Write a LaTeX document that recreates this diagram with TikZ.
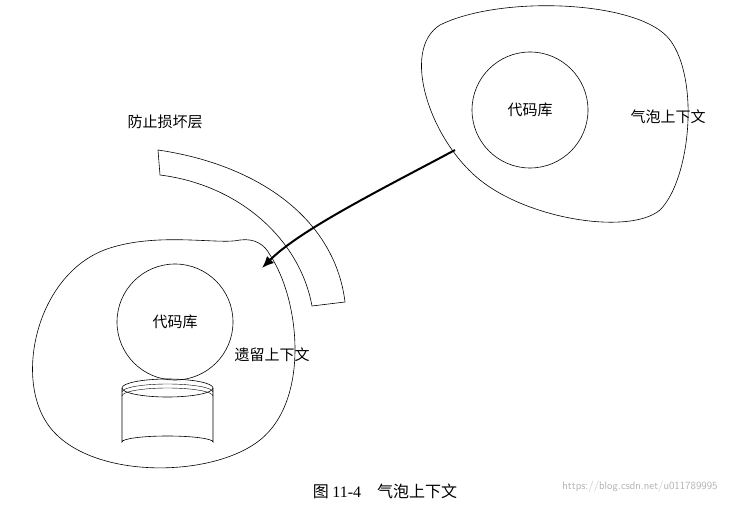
\documentclass[tikz,border=0pt]{standalone}
\usepackage{fontspec}
\usetikzlibrary{arrows.meta}
\setmainfont{Liberation Serif}
\newfontfamily\cjk{Noto Sans CJK SC}
\begin{document}
\begin{tikzpicture}[x=1pt,y=-1pt,
  lbl/.style={font=\cjk\fontsize{15}{17}\selectfont},
  outline/.style={draw,line width=0.6pt}]
\useasboundingbox (0,0) rectangle (754,505);
% top-right blob
\draw[outline] (440,25) .. controls (500,-5) and (640,0) .. (670,40)
  .. controls (700,80) and (690,180) .. (660,210)
  .. controls (630,235) and (530,220) .. (480,180)
  .. controls (430,140) and (400,50) .. (440,25) -- cycle;
\node[outline,circle,minimum size=116pt,lbl] (c1) at (530,110) {代码库};
\node[lbl] (t1) at (668,117) {气泡上下文};
% bottom-left blob
\draw[outline] (240,240) .. controls (255,238) and (265,245) .. (270,255)
  .. controls (300,300) and (310,400) .. (260,440)
  .. controls (210,480) and (80,480) .. (45,420)
  .. controls (15,370) and (40,270) .. (110,248)
  .. controls (160,232) and (220,245) .. (240,240) -- cycle;
\node[outline,circle,minimum size=116pt,lbl] (c2) at (175,322) {代码库};
\node[lbl] (t2) at (272,355) {遗留上下文};
% cylinder
\draw[outline] (122,388) -- (122,442) arc[start angle=180,end angle=360,x radius=45.5,y radius=6] -- (213,388);
\draw[outline] (167.5,388) ellipse[x radius=45.5,y radius=9];
\draw[line width=0.4pt] (122,392) arc[start angle=180,end angle=360,x radius=45.5,y radius=8];
\draw[line width=0.4pt] (122,396) arc[start angle=180,end angle=360,x radius=45.5,y radius=8];
% anti-corruption band
\draw[outline] (158,150) .. controls (260,165) and (335,220) .. (345,302)
  -- (312,306) .. controls (300,240) and (240,185) .. (160,175) -- cycle;
\node[lbl] (t3) at (165,122) {防止损坏层};
% arrow
\coordinate (a0) at (455,150);
\coordinate (a1) at (262,268);
\draw[line width=2pt,-{Latex[length=12pt,width=10pt]}] (a0) .. controls (380,190) and (300,230) .. (a1);
% caption
\node[font=\cjk\fontsize{16}{18}\selectfont] (cap) at (385,491) {图 \fontspec{Liberation Serif}11-4\quad\cjk 气泡上下文};
\node[font=\fontfamily{lmss}\fontsize{11}{13}\selectfont,text=gray!60] (wm) at (640,487) {https://blog.csdn.net/u011789995};
\end{tikzpicture}
\end{document}
